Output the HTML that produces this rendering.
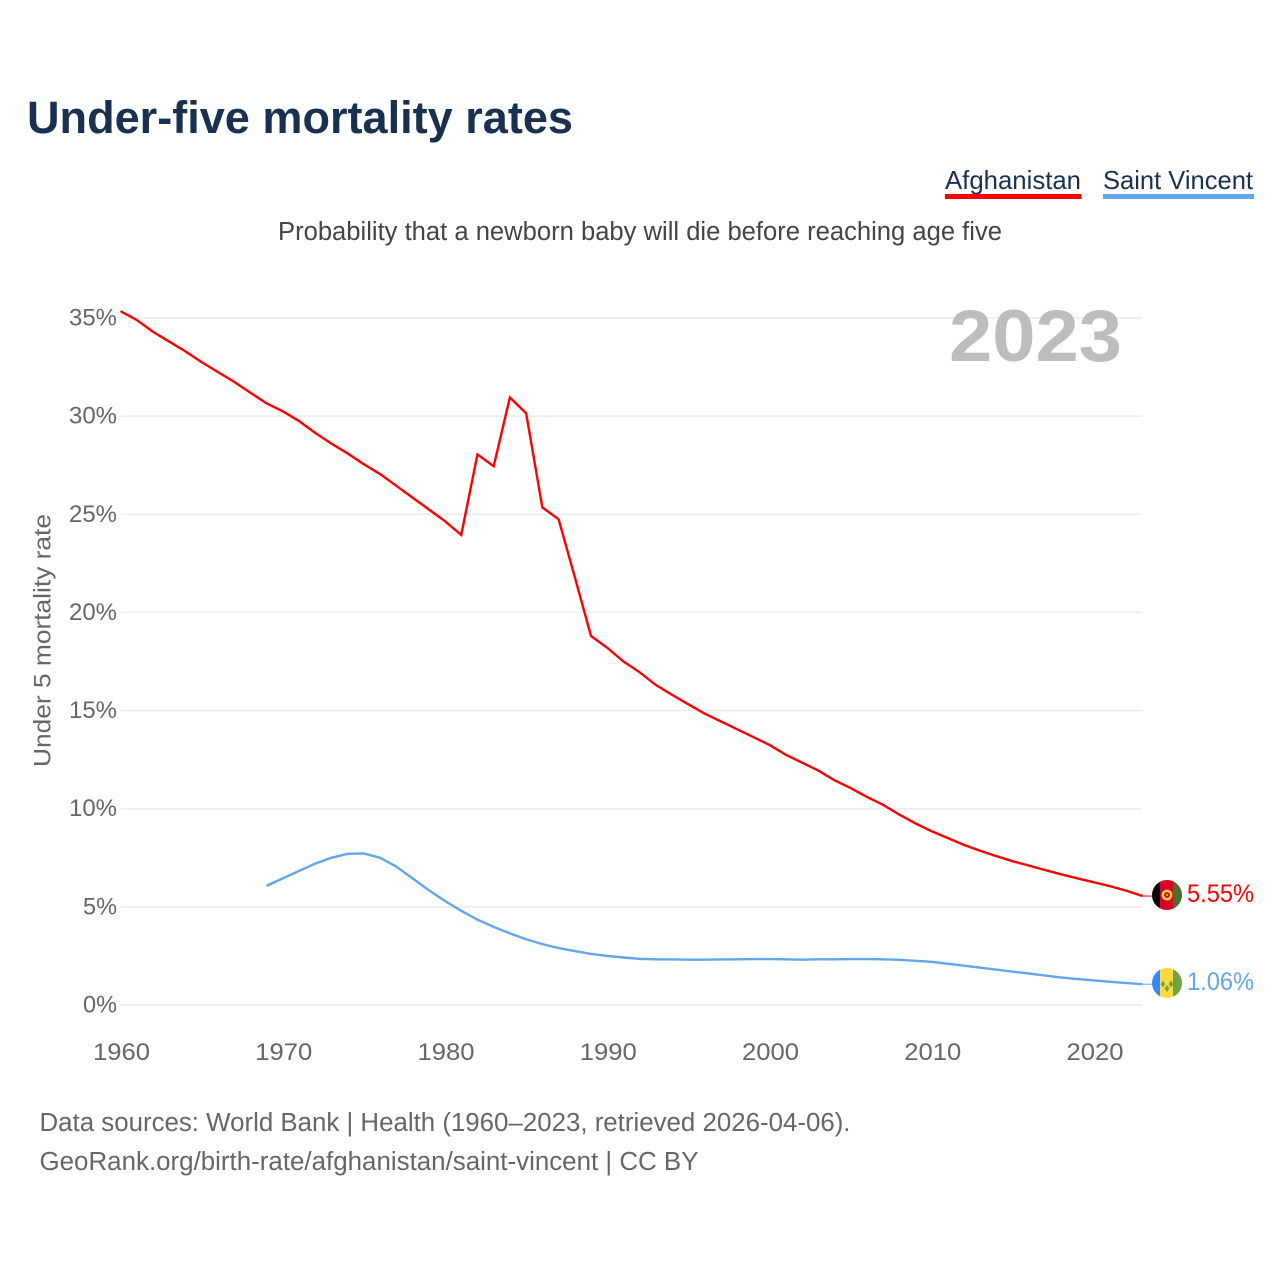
<!DOCTYPE html>
<html lang="en">
<head>
<meta charset="utf-8">
<title>Under-five mortality rates</title>
<style>
html,body{margin:0;padding:0;background:#fff}
svg{display:block}
text{font-family:"Liberation Sans",sans-serif}
</style>
</head>
<body>
<svg id="chart" xmlns="http://www.w3.org/2000/svg" width="1280" height="1280" viewBox="0 0 1280 1280">
  <defs>
    <clipPath id="flag-clip-af"><circle cx="1167" cy="895" r="15"/></clipPath>
    <clipPath id="flag-clip-vc"><circle cx="1167" cy="983" r="15"/></clipPath>
  </defs>
  <rect width="1280" height="1280" fill="#fff"/>
  <text x="27" y="133" font-size="45" font-weight="700" fill="#1a3050" textLength="546" lengthAdjust="spacingAndGlyphs">Under-five mortality rates</text>
  <g>
    <g>
      <text x="945" y="189" font-size="26" fill="#1a3050" textLength="136" lengthAdjust="spacingAndGlyphs">Afghanistan</text>
      <rect x="945" y="194" width="136.500" height="5" fill="#ff0000"/>
    </g>
    <g>
      <text x="1103" y="189" font-size="26" fill="#1a3050" textLength="150" lengthAdjust="spacingAndGlyphs">Saint Vincent</text>
      <rect x="1103" y="194" width="151" height="5" fill="#62a6ec"/>
    </g>
  </g>
  <text x="278" y="240" font-size="25.500" fill="#444" textLength="724" lengthAdjust="spacingAndGlyphs">Probability that a newborn baby will die before reaching age five</text>
  <g id="grid"></g>
  <text x="949" y="361" font-size="73" font-weight="700" fill="#bdbdbd" textLength="173" lengthAdjust="spacingAndGlyphs">2023</text>
  <g id="y-ticks"></g>
  <g id="x-ticks"></g>
  <text transform="translate(50.500,767) rotate(-90)" font-size="24.500" fill="#666" textLength="253" lengthAdjust="spacingAndGlyphs">Under 5 mortality rate</text>
  <g id="series"></g>
  <g clip-path="url(#flag-clip-af)">
    <rect x="1152" y="880" width="8" height="30" fill="#000"/>
    <rect x="1160" y="880" width="13" height="30" fill="#d80027"/>
    <rect x="1173" y="880" width="9" height="30" fill="#496e2d"/>
    <circle cx="1167" cy="895" r="4.200" fill="none" stroke="#ffda44" stroke-width="2.400"/>
    <circle cx="1167" cy="895" r="1.200" fill="#d8a800"/>
  </g>
  <g clip-path="url(#flag-clip-vc)">
    <rect x="1152" y="968" width="8" height="30" fill="#338af3"/>
    <rect x="1160" y="968" width="13" height="30" fill="#ffda44"/>
    <rect x="1173" y="968" width="9" height="30" fill="#6da544"/>
    <path d="M1163 980.500l2.300 3.500-2.300 3.500-2.300-3.500zM1171 980.500l2.300 3.500-2.300 3.500-2.300-3.500zM1167 985l2.300 3.500-2.300 3.500-2.300-3.500z" fill="#6da544"/>
  </g>
  <text x="1187" y="902" font-size="25" fill="#ff0000" textLength="67" lengthAdjust="spacingAndGlyphs">5.55%</text>
  <text x="1187" y="990" font-size="25" fill="#62a6ec" textLength="67" lengthAdjust="spacingAndGlyphs">1.06%</text>
  <text x="39.500" y="1131" font-size="25.500" fill="#666" textLength="811" lengthAdjust="spacingAndGlyphs">Data sources: World Bank | Health (1960–2023, retrieved 2026-04-06).</text>
  <text x="39.500" y="1170" font-size="25.500" fill="#666" textLength="659" lengthAdjust="spacingAndGlyphs">GeoRank.org/birth-rate/afghanistan/saint-vincent | CC BY</text>
</svg>
<script>
const yTickValues = [0, 5, 10, 15, 20, 25, 30, 35];
const yTickLabels = ["0%", "5%", "10%", "15%", "20%", "25%", "30%", "35%"];
const xTickValues = [1960, 1970, 1980, 1990, 2000, 2010, 2020];
const xTickLabels = ["1960", "1970", "1980", "1990", "2000", "2010", "2020"];
const afghanistanStartYear = 1960;
const afghanistanValues = [35.35,34.9,34.3,33.8,33.3,32.75,32.25,31.75,31.2,30.65,30.25,29.75,29.15,28.6,28.1,27.55,27.05,26.45,25.85,25.25,24.65,23.95,28.05,27.45,30.95,30.15,25.35,24.75,21.8,18.8,18.2,17.5,16.95,16.3,15.8,15.32,14.85,14.45,14.05,13.65,13.25,12.75,12.35,11.95,11.45,11.05,10.6,10.2,9.7,9.25,8.85,8.5,8.15,7.85,7.58,7.32,7.1,6.87,6.65,6.45,6.25,6.05,5.82,5.55];
const saintVincentStartYear = 1969;
const saintVincentValues = [6.07,6.45,6.83,7.2,7.5,7.7,7.72,7.5,7.05,6.45,5.85,5.3,4.8,4.35,3.98,3.65,3.35,3.1,2.9,2.75,2.6,2.5,2.42,2.35,2.33,2.32,2.31,2.31,2.32,2.33,2.34,2.34,2.33,2.31,2.33,2.33,2.34,2.34,2.33,2.3,2.25,2.2,2.1,2,1.9,1.8,1.7,1.6,1.5,1.4,1.32,1.25,1.18,1.12,1.06];

const NS = "http://www.w3.org/2000/svg";
function xScale(year) { return 120.5 + (year - 1960) * (1094 - 120.5) / 60; }
function yScale(value) { return 1005 - value * (1005 - 318) / 35; }
function make(tag, attrs, parent) {
  const el = document.createElementNS(NS, tag);
  for (const k in attrs) el.setAttribute(k, attrs[k]);
  parent.appendChild(el);
  return el;
}
const grid = document.getElementById("grid");
const yTicks = document.getElementById("y-ticks");
const xTicks = document.getElementById("x-ticks");
const series = document.getElementById("series");

yTickValues.forEach(function (v, i) {
  const line = make("line", { x1: 121, x2: 1142, y1: yScale(v), y2: yScale(v), stroke: "#ececec", "stroke-width": 1.5 }, grid);
  
  
  const label = make("text", { x: 117, y: yScale(v) + 7.5, "text-anchor": "end", "font-size": 24.5, fill: "#666", textLength: yTickLabels[i].length === 2 ? 34 : 48, lengthAdjust: "spacingAndGlyphs" }, yTicks);
  label.textContent = yTickLabels[i];
  
  
});
xTickValues.forEach(function (v, i) {
  const label = make("text", { x: xScale(v) + 1, y: 1060, "text-anchor": "middle", "font-size": 24.5, fill: "#666", textLength: 57, lengthAdjust: "spacingAndGlyphs" }, xTicks);
  label.textContent = xTickLabels[i];
  
  
});
function drawSeries(values, startYear, color, name) {
  const pts = values.map(function (v, i) { return xScale(startYear + i).toFixed(2) + "," + yScale(v).toFixed(2); });
  const line = make("polyline", { points: pts.join(" "), fill: "none", stroke: color, "stroke-width": 2.4, "stroke-linejoin": "miter" }, series);
  
  
  const lastY = yScale(values[values.length - 1]);
  const connector = make("line", { x1: xScale(startYear + values.length - 1), x2: 1153, y1: lastY, y2: lastY, stroke: color, "stroke-width": 1 }, series);
  
  
}
drawSeries(afghanistanValues, afghanistanStartYear, "#ff0000", "afghanistan-line");
drawSeries(saintVincentValues, saintVincentStartYear, "#62a6ec", "saint-vincent-line");
</script>
</body>
</html>
